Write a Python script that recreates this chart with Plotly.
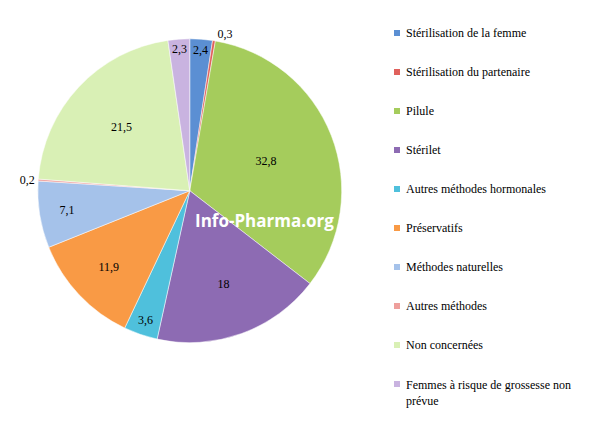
import plotly.graph_objects as go

labels = ["Stérilisation de la femme", "Stérilisation du partenaire", "Pilule", "Stérilet",
          "Autres méthodes hormonales", "Préservatifs", "Méthodes naturelles",
          "Autres méthodes", "Non concernées", "Femmes à risque de grossesse non<br>prévue"]
values = [2.4, 0.3, 32.8, 18, 3.6, 11.9, 7.1, 0.2, 21.5, 2.3]
text = ["2,4", "0,3", "32,8", "18", "3,6", "11,9", "7,1", "0,2", "21,5", "2,3"]
colors = ["#5b8fd3", "#e0615c", "#a5cc5c", "#8d6bb3", "#4fc0dc", "#f99a45",
          "#a5c2ea", "#ee9f9c", "#d9f0b5", "#c9b3e0"]
positions = ["inside", "outside", "inside", "inside", "inside", "inside",
             "inside", "outside", "inside", "inside"]

fig = go.Figure(go.Pie(
    labels=labels, values=values, text=text, textinfo="text",
    textposition=positions, sort=False, direction="clockwise", rotation=0,
    marker=dict(colors=colors, line=dict(color="white", width=0.5)),
    textfont=dict(family="Liberation Serif", size=12, color="black"),
    insidetextorientation="horizontal", showlegend=False,
    domain=dict(x=[0.05, 0.562], y=[0.207, 0.927]),
))

# manual legend
top = 25
for i, (lab, col) in enumerate(zip(labels, colors)):
    y = top + i * 39
    fig.add_shape(type="rect", xref="paper", yref="paper",
                  x0=386 / 594, x1=392 / 594, y0=1 - (y + 3) / 422, y1=1 - (y - 3) / 422,
                  fillcolor=col, line=dict(width=0))
    fig.add_annotation(x=396 / 594, y=1 - y / 422, xref="paper", yref="paper",
                       text=lab, showarrow=False, xanchor="left",
                       yanchor="top" if "<br>" in lab else "middle",
                       yshift=8 if "<br>" in lab else 0,
                       align="left", font=dict(family="Liberation Serif", size=12, color="black"))

fig.add_annotation(x=185 / 594, y=1 - 212 / 422, xref="paper", yref="paper",
                   text="<b>Info-Pharma.org</b>", showarrow=False,
                   font=dict(family="Open Sans", size=17, color="white"))

fig.update_layout(width=594, height=422, margin=dict(l=0, r=0, t=0, b=0),
                  paper_bgcolor="white")
fig.write_html("out.html")
